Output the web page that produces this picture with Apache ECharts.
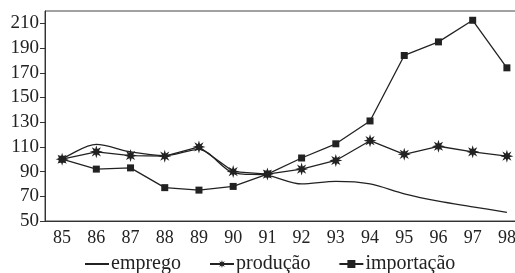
<!DOCTYPE html>
<html>
<head>
<meta charset="utf-8">
<script src="https://cdn.jsdelivr.net/npm/echarts@6/dist/echarts.min.js"></script>
<style>
html, body { margin: 0; padding: 0; background: #fff; }
#chart { width: 515px; height: 273px; }
</style>
</head>
<body>
<div id="chart"></div>
<script>
var years = ['85', '86', '87', '88', '89', '90', '91', '92', '93', '94', '95', '96', '97', '98'];
var emprego = [100, 112, 106, 103, 108, 89, 87, 80, 82, 80, 72, 66, 61.5, 57];
var producao = [100, 106, 103, 102.5, 110, 90, 88, 92, 99, 115, 104, 110.5, 106, 102.5];
var importacao = [100, 92, 93, 77, 75, 78, 88, 101, 112.5, 131, 184, 195, 212.5, 174];
var yTicks = [50, 70, 90, 110, 130, 150, 170, 190, 210];

// estrela de 8 pontas para a série produção
function starPath() {
    var pts = [];
    for (var k = 0; k < 16; k++) {
        var a = k * Math.PI / 8 - Math.PI / 2;
        var r = k % 2 === 0 ? 10 : 4.5;
        pts.push((10 + r * Math.cos(a)).toFixed(2) + ' ' + (10 + r * Math.sin(a)).toFixed(2));
    }
    return 'path://M' + pts.join(' L') + ' Z';
}

var ink = '#222';
var font = 'Liberation Serif';

var chart = echarts.init(document.getElementById('chart'));
var option = {
    animation: false,
    grid: {
        left: 45,
        right: -9,
        top: 11,
        bottom: 52,
        show: true,
        borderColor: '#444',
        borderWidth: 1,
        outerBoundsMode: 'none'
    },
    legend: {
        top: 254,
        left: 84,
        padding: 0,
        itemWidth: 24,
        itemHeight: 10,
        itemGap: 28,
        textStyle: {
            fontFamily: font,
            fontSize: 20,
            color: ink,
            padding: [0, 0, 0, -3]
        },
        data: [
            {name: 'emprego', itemStyle: {opacity: 0}},
            'produção',
            'importação'
        ]
    },
    xAxis: {
        type: 'category',
        data: years,
        axisLine: { lineStyle: { color: '#333', width: 1 } },
        axisTick: { inside: true, length: 5, lineStyle: { color: '#333' } },
        axisLabel: {
            fontFamily: font,
            fontSize: 18,
            color: ink,
            margin: 8
        },
        splitLine: { show: false }
    },
    yAxis: {
        type: 'value',
        min: 50,
        max: 220,
        axisLine: { show: true, lineStyle: { color: '#333', width: 1 } },
        axisTick: { show: true, length: 5, customValues: yTicks, lineStyle: { color: '#333' } },
        axisLabel: {
            fontFamily: font,
            fontSize: 19,
            color: ink,
            margin: 6,
            customValues: yTicks
        },
        splitLine: { show: false }
    },
    series: [{
        name: 'emprego',
        type: 'line',
        data: emprego,
        smooth: 0.3,
        symbol: 'none',
        lineStyle: { color: ink, width: 1.3 },
        itemStyle: { color: ink }
    }, {
        name: 'produção',
        type: 'line',
        data: producao,
        symbol: starPath(),
        symbolSize: 13,
        lineStyle: { color: ink, width: 1.3 },
        itemStyle: { color: ink }
    }, {
        name: 'importação',
        type: 'line',
        data: importacao,
        symbol: 'rect',
        symbolSize: 7,
        lineStyle: { color: ink, width: 1.3 },
        itemStyle: { color: ink }
    }]
};
chart.setOption(option);
</script>
</body>
</html>
